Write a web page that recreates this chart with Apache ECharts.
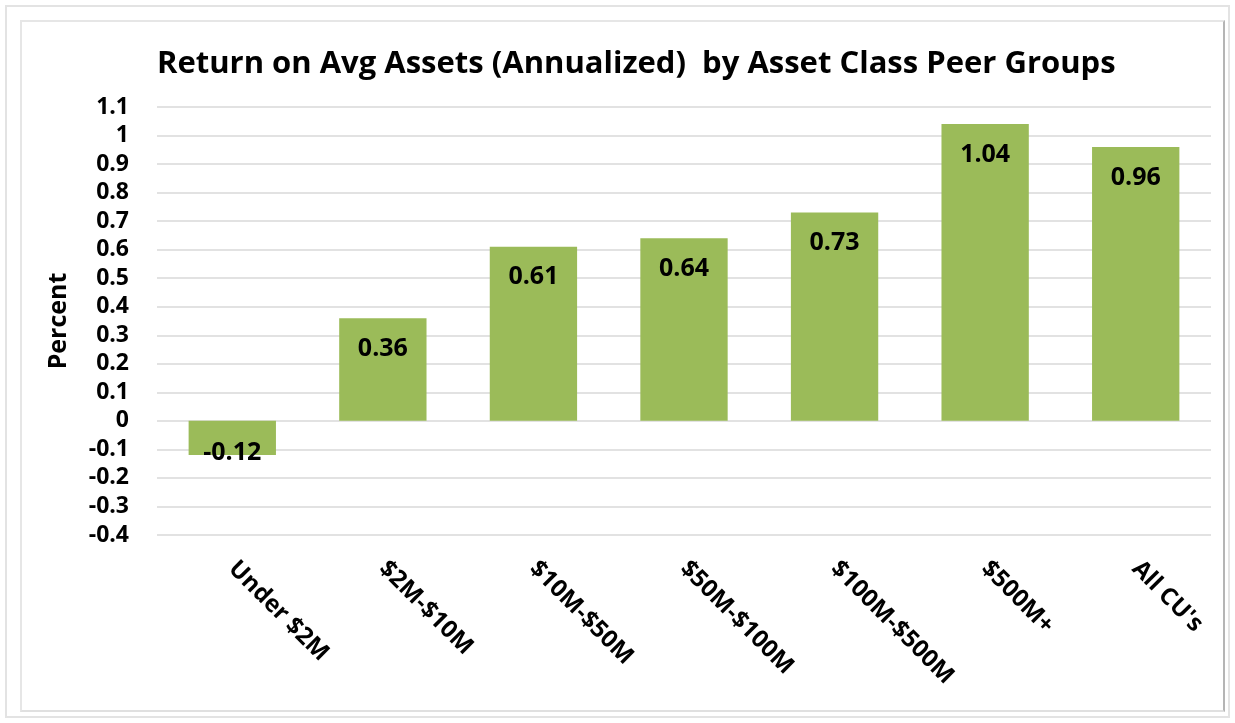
<!DOCTYPE html>
<html>
<head>
<meta charset="utf-8">
<script src="https://cdn.jsdelivr.net/npm/echarts@6/dist/echarts.min.js"></script>
<style>
  html, body { margin: 0; padding: 0; background: #fff; }
  .outer {
    position: absolute; left: 5px; top: 5px; width: 1221px; height: 709px;
    border: 2px solid #e3e3e3;
  }
  .inner {
    position: absolute; left: 20px; top: 20px; width: 1205px; height: 692px;
    border-left: 2px solid #e6e6e6; border-top: 2px solid #e6e6e6;
    border-right: 2px solid #b5b5b5; border-bottom: 2px solid #e0e0e0;
    box-sizing: border-box;
  }
  #main { position: absolute; left: 0; top: 0; width: 1235px; height: 723px; }
</style>
</head>
<body>
<div class="outer"></div>
<div class="inner"></div>
<div id="main"></div>
<script>
const categories = ["Under $2M", "$2M-$10M", "$10M-$50M", "$50M-$100M", "$100M-$500M", "$500M+", "All CU's"];
const values = [-0.12, 0.36, 0.61, 0.64, 0.73, 1.04, 0.96];
const titleText = "Return on Avg Assets (Annualized)  by Asset Class Peer Groups";
const barColor = "#9BBB59";
const fontFam = "'Open Sans', 'Noto Sans', sans-serif";

const chart = echarts.init(document.getElementById("main"), null, { renderer: "canvas" });

// negative bar gets its label at the bottom end
const seriesData = values.map(function (v) {
  if (v < 0) {
    return {
      value: v,
      label: { position: "insideBottom", distance: -10 }
    };
  }
  return v;
});

const option = {
  backgroundColor: "transparent",
  animation: false,
  title: {
    text: titleText,
    left: 152,
    top: 44,
    textStyle: { fontFamily: fontFam, fontSize: 31, fontWeight: "bold", color: "#000" }
  },
  grid: { left: 157, right: 24, top: 107, bottom: 188 },
  xAxis: {
    type: "category",
    data: categories,
    axisLine: { show: false },
    axisTick: { show: false },
    axisLabel: {
      rotate: -45,
      margin: 30,
      interval: 0,
      fontFamily: fontFam,
      fontSize: 24,
      fontWeight: "bold",
      color: "#000"
    }
  },
  yAxis: {
    type: "value",
    min: -0.4,
    max: 1.1,
    interval: 0.1,
    name: "Percent",
    nameLocation: "middle",
    nameGap: 86,
    nameRotate: 90,
    nameTextStyle: { fontFamily: fontFam, fontSize: 25, fontWeight: "bold", color: "#000" },
    axisLine: { show: false },
    axisTick: { show: false },
    axisLabel: {
      margin: 28,
      fontFamily: fontFam,
      fontSize: 23,
      fontWeight: "bold",
      color: "#000",
      formatter: function (v) { return String(Math.round(v * 10) / 10); }
    },
    splitLine: { lineStyle: { color: "#d9d9d9", width: 1.5 } }
  },
  series: [{
    type: "bar",
    data: seriesData,
    barWidth: "58%",
    itemStyle: { color: barColor },
    label: {
      show: true,
      position: "insideTop",
      distance: 18,
      fontFamily: fontFam,
      fontSize: 25,
      fontWeight: "bold",
      color: "#000",
      formatter: function (p) { return String(p.value); }
    }
  }]
};

chart.setOption(option);
</script>
</body>
</html>
